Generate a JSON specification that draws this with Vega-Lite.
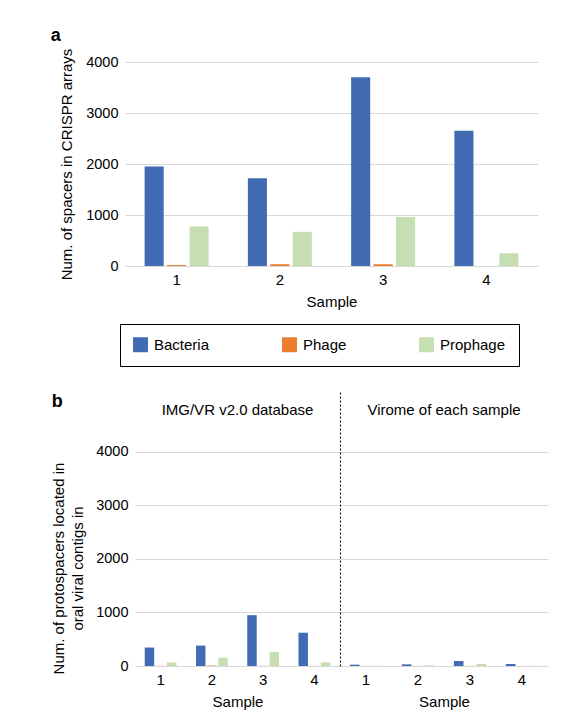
{
  "$schema": "https://vega.github.io/schema/vega-lite/v6.json",
  "background": "white",
  "padding": {"left": 50, "top": 27, "right": 10, "bottom": 5},
  "config": {
    "font": "Liberation Sans",
    "view": {"stroke": null},
    "axis": {
      "labelFontSize": 14.5,
      "titleFontSize": 15,
      "titleFontWeight": "normal",
      "labelColor": "#000000",
      "titleColor": "#000000",
      "gridColor": "#d9d9d9",
      "ticks": false,
      "domain": false
    },
    "title": {"fontSize": 15, "fontWeight": "normal", "color": "#000000"},
    "legend": {"labelFontSize": 15, "labelColor": "#000000"}
  },
  "datasets": {
    "counts": [
      {"panel": "a", "sample": "1", "type": "Bacteria", "value": 1950},
      {"panel": "a", "sample": "1", "type": "Phage", "value": 20},
      {"panel": "a", "sample": "1", "type": "Prophage", "value": 775},
      {"panel": "a", "sample": "2", "type": "Bacteria", "value": 1720},
      {"panel": "a", "sample": "2", "type": "Phage", "value": 35},
      {"panel": "a", "sample": "2", "type": "Prophage", "value": 670},
      {"panel": "a", "sample": "3", "type": "Bacteria", "value": 3700},
      {"panel": "a", "sample": "3", "type": "Phage", "value": 35},
      {"panel": "a", "sample": "3", "type": "Prophage", "value": 960},
      {"panel": "a", "sample": "4", "type": "Bacteria", "value": 2650},
      {"panel": "a", "sample": "4", "type": "Phage", "value": 0},
      {"panel": "a", "sample": "4", "type": "Prophage", "value": 250},
      {"panel": "IMG", "sample": "1", "type": "Bacteria", "value": 345},
      {"panel": "IMG", "sample": "1", "type": "Phage", "value": 3},
      {"panel": "IMG", "sample": "1", "type": "Prophage", "value": 67},
      {"panel": "IMG", "sample": "2", "type": "Bacteria", "value": 381},
      {"panel": "IMG", "sample": "2", "type": "Phage", "value": 8},
      {"panel": "IMG", "sample": "2", "type": "Prophage", "value": 154},
      {"panel": "IMG", "sample": "3", "type": "Bacteria", "value": 950},
      {"panel": "IMG", "sample": "3", "type": "Phage", "value": 3},
      {"panel": "IMG", "sample": "3", "type": "Prophage", "value": 265},
      {"panel": "IMG", "sample": "4", "type": "Bacteria", "value": 622},
      {"panel": "IMG", "sample": "4", "type": "Phage", "value": 2},
      {"panel": "IMG", "sample": "4", "type": "Prophage", "value": 67},
      {"panel": "Virome", "sample": "1", "type": "Bacteria", "value": 25},
      {"panel": "Virome", "sample": "1", "type": "Phage", "value": 2},
      {"panel": "Virome", "sample": "1", "type": "Prophage", "value": 4},
      {"panel": "Virome", "sample": "2", "type": "Bacteria", "value": 31},
      {"panel": "Virome", "sample": "2", "type": "Phage", "value": 2},
      {"panel": "Virome", "sample": "2", "type": "Prophage", "value": 12},
      {"panel": "Virome", "sample": "3", "type": "Bacteria", "value": 93},
      {"panel": "Virome", "sample": "3", "type": "Phage", "value": 2},
      {"panel": "Virome", "sample": "3", "type": "Prophage", "value": 37},
      {"panel": "Virome", "sample": "4", "type": "Bacteria", "value": 37},
      {"panel": "Virome", "sample": "4", "type": "Phage", "value": 1},
      {"panel": "Virome", "sample": "4", "type": "Prophage", "value": 4}
    ]
  },
  "resolve": {"scale": {"x": "independent", "y": "independent", "xOffset": "independent"}},
  "spacing": 82,
  "vconcat": [
    {
      "title": {"text": "a", "anchor": "start", "fontSize": 18, "fontWeight": "bold", "offset": 3, "dx": -9},
      "width": 403,
      "height": 204,
      "data": {"name": "counts"},
      "transform": [{"filter": "datum.panel == 'a'"}],
      "mark": {"type": "bar"},
      "encoding": {
        "x": {
          "field": "sample",
          "type": "ordinal",
          "scale": {"range": [-10, 403], "paddingInner": 0.38, "paddingOuter": 0.19},
          "axis": {"labelAngle": 0, "labelPadding": 6, "titlePadding": 7, "title": "Sample", "labelFontSize": 15}
        },
        "xOffset": {
          "field": "type",
          "sort": ["Bacteria", "Phage", "Prophage"],
          "scale": {"paddingInner": 0.15, "paddingOuter": 0}
        },
        "y": {
          "field": "value",
          "type": "quantitative",
          "scale": {"domain": [0, 4000], "nice": false},
          "axis": {
            "values": [0, 1000, 2000, 3000, 4000],
            "format": "d",
            "grid": true,
            "gridScale": "x",
            "title": "Num. of spacers in CRISPR arrays",
            "labelPadding": 17,
            "titlePadding": 11
          }
        },
        "color": {
          "field": "type",
          "type": "nominal",
          "scale": {"domain": ["Bacteria", "Phage", "Prophage"], "range": ["#416cb4", "#ed7d31", "#c5dfb3"]},
          "legend": {
            "title": null,
            "orient": "none",
            "legendX": -15,
            "legendY": 262,
            "direction": "horizontal",
            "symbolType": "square",
            "symbolSize": 225,
            "symbolStrokeWidth": 0,
            "symbolOpacity": 1,
            "labelOffset": 6,
            "columnPadding": 72,
            "padding": 13,
            "strokeColor": "#000000",
            "fillColor": "white"
          }
        }
      }
    },
    {
      "title": {"text": "b", "anchor": "start", "fontSize": 18, "fontWeight": "bold", "offset": -20},
      "spacing": 0,
      "resolve": {"scale": {"x": "independent", "xOffset": "independent"}},
      "hconcat": [
        {
          "title": {"text": "IMG/VR v2.0 database", "offset": -27},
          "width": 205,
          "height": 275,
          "data": {"name": "counts"},
          "transform": [{"filter": "datum.panel == 'IMG'"}],
          "mark": {"type": "bar"},
          "encoding": {
            "x": {
              "field": "sample",
              "type": "ordinal",
              "scale": {"paddingInner": 0.38, "paddingOuter": 0.19},
              "axis": {"labelAngle": 0, "labelPadding": 6, "titlePadding": 7, "title": "Sample", "labelFontSize": 15}
            },
            "xOffset": {
              "field": "type",
              "sort": ["Bacteria", "Phage", "Prophage"],
              "scale": {"paddingInner": 0.15, "paddingOuter": 0}
            },
            "y": {
              "field": "value",
              "type": "quantitative",
              "scale": {"domain": [0, 5140], "nice": false},
              "axis": {
                "values": [0, 1000, 2000, 3000, 4000],
                "format": "d",
                "grid": true,
                "title": ["Num. of protospacers located in", "oral viral contigs in"],
                "titleLineHeight": 19,
                "titleY": 177,
                "labelPadding": 7,
                "titlePadding": 10
              }
            },
            "color": {"field": "type", "type": "nominal", "legend": null}
          }
        },
        {
          "title": {"text": "Virome of each sample", "offset": -27},
          "width": 208,
          "height": 275,
          "data": {"name": "counts"},
          "transform": [{"filter": "datum.panel == 'Virome'"}],
          "mark": {"type": "bar"},
          "encoding": {
            "x": {
              "field": "sample",
              "type": "ordinal",
              "scale": {"paddingInner": 0.38, "paddingOuter": 0.19},
              "axis": {"labelAngle": 0, "labelPadding": 6, "titlePadding": 7, "title": "Sample", "labelFontSize": 15}
            },
            "xOffset": {
              "field": "type",
              "sort": ["Bacteria", "Phage", "Prophage"],
              "scale": {"paddingInner": 0.15, "paddingOuter": 0}
            },
            "y": {
              "field": "value",
              "type": "quantitative",
              "scale": {"domain": [0, 5140], "nice": false},
              "axis": {
                "values": [0, 1000, 2000, 3000, 4000],
                "grid": true,
                "labels": false,
                "title": null,
                "domain": true,
                "domainColor": "#000000",
                "domainDash": [2, 2],
                "domainWidth": 1
              }
            },
            "color": {"field": "type", "type": "nominal", "legend": null}
          }
        }
      ]
    }
  ]
}
